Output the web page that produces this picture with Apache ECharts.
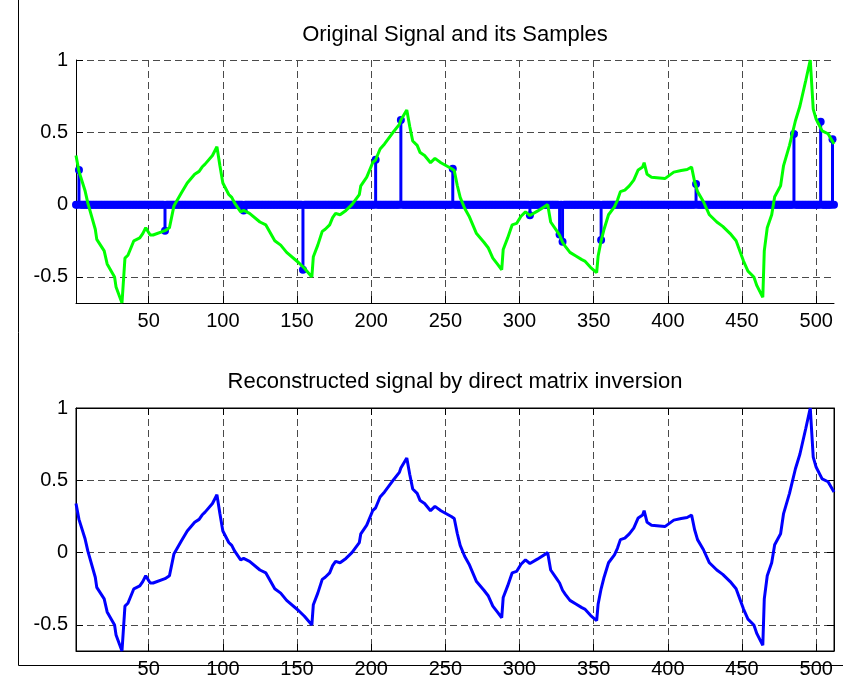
<!DOCTYPE html>
<html>
<head>
<meta charset="utf-8">
<script src="https://cdn.jsdelivr.net/npm/echarts@6/dist/echarts.min.js"></script>
<style>
html, body { margin: 0; padding: 0; background: #fff; }
#chart { width: 843px; height: 687px; }
</style>
</head>
<body>
<div id="chart"></div>
<script>
// signal vertices (index, amplitude)
var signalX = [1, 3, 7, 9, 14, 15, 20, 22, 27, 28, 32, 34, 36, 40, 44, 46, 48, 51, 53, 61, 64, 67, 72, 76, 81, 84, 86, 88, 93, 96,
  98, 100, 104, 106, 108, 112, 114, 118, 125, 129, 135, 139, 143, 151, 155, 160, 161, 164, 167, 169, 172, 174, 176, 179, 183, 187,
  192, 193, 197, 201, 203, 206, 209, 214, 219, 220, 222, 224, 226, 228, 231, 233, 236, 240, 243, 247, 254, 256, 258, 260, 263, 266,
  271, 276, 279, 282, 285, 288, 289, 292, 295, 298, 301, 304, 307, 312, 319, 321, 325, 327, 329, 331, 334, 338, 342, 344, 348, 352,
  353, 355, 357, 360, 364, 366, 368, 371, 374, 377, 380, 383, 384, 386, 389, 398, 404, 409, 413, 416, 418, 420, 424, 428, 433, 437,
  442, 446, 451, 454, 458, 460, 464, 465, 467, 470, 472, 476, 478, 482, 486, 489, 491, 493, 496, 498, 500, 504, 505, 508, 512];
var signalY = [0.34, 0.23, 0.10, 0.01, -0.17, -0.24, -0.32, -0.41, -0.50, -0.57, -0.68, -0.37, -0.35, -0.25, -0.23, -0.20, -0.16, -0.21, -0.21, -0.18, -0.16, -0.01, 0.08, 0.15, 0.21, 0.23, 0.26, 0.28, 0.34, 0.40,
  0.27, 0.15, 0.07, 0.05, 0.01, -0.05, -0.04, -0.06, -0.12, -0.14, -0.25, -0.28, -0.33, -0.40, -0.44, -0.50, -0.36, -0.28, -0.185, -0.17, -0.14, -0.09, -0.06, -0.07, -0.04, 0.00,
  0.07, 0.13, 0.19, 0.29, 0.31, 0.385, 0.42, 0.49, 0.555, 0.585, 0.62, 0.655, 0.54, 0.44, 0.41, 0.36, 0.34, 0.29, 0.32, 0.29, 0.25, 0.236, 0.134, 0.05, -0.025, -0.08,
  -0.20, -0.26, -0.30, -0.37, -0.41, -0.45, -0.31, -0.23, -0.14, -0.13, -0.08, -0.05, -0.075, -0.045, 0.00, -0.12, -0.18, -0.21, -0.26, -0.29, -0.33, -0.355, -0.38, -0.39, -0.435, -0.47,
  -0.355, -0.25, -0.17, -0.07, -0.015, 0.03, 0.09, 0.10, 0.13, 0.17, 0.24, 0.26, 0.29, 0.21, 0.19, 0.18, 0.225, 0.236, 0.243, 0.26, 0.16, 0.09, 0.02, -0.07, -0.12, -0.15,
  -0.20, -0.25, -0.39, -0.46, -0.50, -0.56, -0.64, -0.32, -0.16, -0.07, 0.055, 0.13, 0.27, 0.41, 0.58, 0.68, 0.77, 0.86, 1.00, 0.66, 0.59, 0.51, 0.51, 0.49, 0.42];

// sample positions and their values
var sampleX = [3, 61, 114, 154, 203, 220, 255, 307, 327, 329, 355, 419, 485, 503, 511];
var sampleY = [0.24, -0.18, -0.04, -0.45, 0.31, 0.585, 0.248, -0.073, -0.206, -0.257, -0.245, 0.142, 0.489, 0.573, 0.452];

var N = 512;
var xTicks = [50, 100, 150, 200, 250, 300, 350, 400, 450, 500];
var yTicks = [-0.5, 0, 0.5, 1];

var signal = signalX.map(function (x, i) { return [x, signalY[i]]; });
var stems = [];
for (var n = 1; n <= N; n++) {
  var k = sampleX.indexOf(n);
  stems.push([n, k < 0 ? 0 : sampleY[k]]);
}

var font = 'Liberation Sans';

function xAx(grid, pos, labels) {
  return {
    type: 'value', gridIndex: grid, position: pos, min: 1, max: N,
    axisLine: { show: true, onZero: false, lineStyle: { color: '#000', width: 1 } },
    axisTick: { show: true, inside: true, length: 7, customValues: xTicks, lineStyle: { color: '#000' } },
    axisLabel: { show: labels, customValues: xTicks, color: '#000', fontSize: 20, fontFamily: font, margin: 8 },
    splitLine: { show: labels, lineStyle: { type: [7, 4], color: '#4a4a4a', width: 1 } }
  };
}
function yAx(grid, pos, labels) {
  return {
    type: 'value', gridIndex: grid, position: pos, min: -0.68, max: 1,
    axisLine: { show: true, onZero: false, lineStyle: { color: '#000', width: 1 } },
    axisTick: { show: true, inside: true, length: 7, customValues: yTicks, lineStyle: { color: '#000' } },
    axisLabel: { show: labels, customValues: yTicks, color: '#000', fontSize: 20, fontFamily: font, margin: 8 },
    splitLine: { show: labels, lineStyle: { type: [7, 4], color: '#4a4a4a', width: 1 } }
  };
}

var myChart = echarts.init(document.getElementById('chart'));
var option = {
  animation: false,
  backgroundColor: '#fff',
  grid: [
    { left: 76, top: 60, width: 758, height: 243 },
    { left: 76, top: 408, width: 758, height: 243, show: true, borderColor: '#000', borderWidth: 1 }
  ],
  xAxis: [xAx(0, 'bottom', true), xAx(1, 'bottom', true), xAx(1, 'top', false)],
  yAxis: [yAx(0, 'left', true), yAx(1, 'left', true), yAx(1, 'right', false)],
  graphic: [
    { type: 'text', x: 455, y: 35, style: { text: 'Original Signal and its Samples', font: '22px ' + font, fill: '#000', textAlign: 'center', textVerticalAlign: 'middle' } },
    { type: 'text', x: 455, y: 382, style: { text: 'Reconstructed signal by direct matrix inversion', font: '22px ' + font, fill: '#000', textAlign: 'center', textVerticalAlign: 'middle' } },
    { type: 'line', shape: { x1: 18.5, y1: 0, x2: 18.5, y2: 665.5 }, style: { stroke: '#000', lineWidth: 1 } },
    { type: 'line', shape: { x1: 18.5, y1: 665.5, x2: 843, y2: 665.5 }, style: { stroke: '#000', lineWidth: 1 } }
  ],
  series: [
    {
      type: 'line', xAxisIndex: 0, yAxisIndex: 0, data: signal, showSymbol: false, silent: true,
      lineStyle: { color: '#00ff00', width: 3 }
    },
    {
      type: 'custom', xAxisIndex: 0, yAxisIndex: 0, data: stems, silent: true,
      renderItem: function (params, api) {
        var p0 = api.coord([api.value(0), 0]);
        var p1 = api.coord([api.value(0), api.value(1)]);
        return { type: 'line', shape: { x1: p0[0], y1: p0[1], x2: p1[0], y2: p1[1] }, style: { stroke: '#0000ff', lineWidth: 3 } };
      }
    },
    {
      type: 'scatter', xAxisIndex: 0, yAxisIndex: 0, data: stems, symbolSize: 8, silent: true,
      itemStyle: { color: '#0000ff', opacity: 1 }
    },
    {
      type: 'line', xAxisIndex: 1, yAxisIndex: 1, data: signal, showSymbol: false, silent: true,
      lineStyle: { color: '#0000ff', width: 3 }
    }
  ]
};
myChart.setOption(option);
</script>
</body>
</html>
